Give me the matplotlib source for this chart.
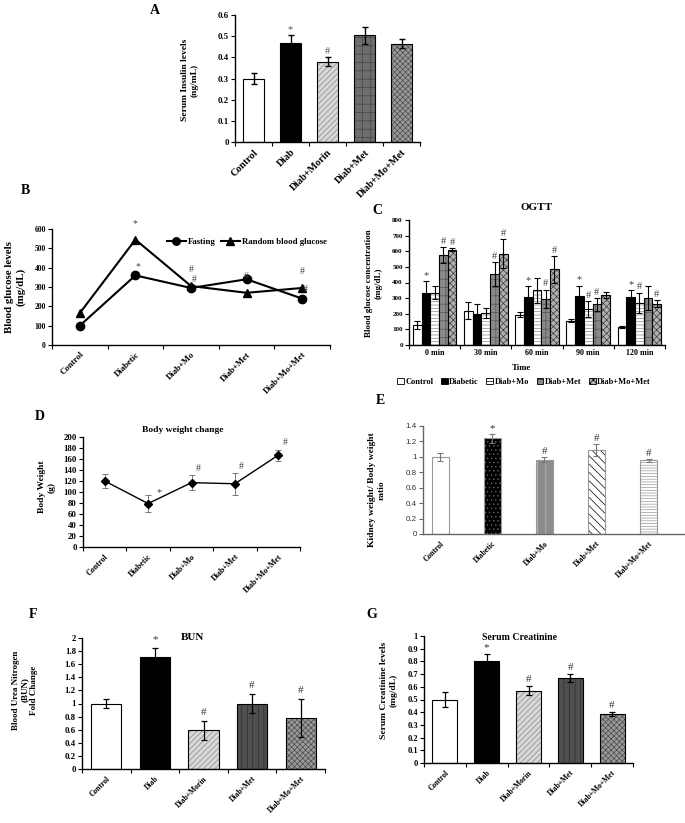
import numpy as np
import matplotlib.pyplot as plt
from matplotlib.patches import Patch

plt.rcParams['font.family'] = 'Liberation Serif'
plt.rcParams['font.weight'] = 'bold'
plt.rcParams['hatch.linewidth'] = 0.5

W, H = 685, 823

# ---------- data ----------
groups_a = ["Control", "Diab", "Diab+Morin", "Diab+Met", "Diab+Mo+Met"]
insulin = [0.30, 0.47, 0.38, 0.505, 0.465]
insulin_err = [0.025, 0.035, 0.02, 0.04, 0.02]
insulin_sig = ["", "*", "#", "", ""]

groups_b = ["Control", "Diabetic", "Diab+Mo", "Diab+Met", "Diab+Mo+Met"]
fasting = [100, 360, 295, 340, 240]
random_bg = [165, 545, 305, 270, 295]
fasting_sig = ["", "*", "#", "", "#"]
random_sig = ["", "*", "#", "#", "#"]

times = ["0 min", "30 min", "60 min", "90 min", "120 min"]
ogtt_series = ["Control", "Diabetic", "Diab+Mo", "Diab+Met", "Diab+Mo+Met"]
ogtt = [[130, 220, 195, 155, 115],
        [335, 200, 305, 315, 310],
        [335, 205, 350, 230, 270],
        [575, 455, 295, 260, 300],
        [610, 585, 485, 320, 265]]
ogtt_err = [[25, 55, 15, 10, 5],
            [75, 65, 70, 65, 40],
            [40, 35, 80, 50, 65],
            [50, 75, 60, 40, 75],
            [10, 95, 85, 20, 20]]
ogtt_sig = [["", "", "", "", ""],
            ["*", "", "*", "*", "*"],
            ["", "", "", "#", "#"],
            ["#", "#", "#", "#", ""],
            ["#", "#", "#", "", "#"]]

body_wt = [120, 79, 117, 115, 167]
body_err = [13, 15, 14, 20, 10]
body_sig = ["", "*", "#", "#", "#"]

kidney = [1.0, 1.24, 0.965, 1.09, 0.955]
kidney_err = [0.05, 0.06, 0.035, 0.08, 0.02]
kidney_sig = ["", "*", "#", "#", "#"]

bun = [1.0, 1.71, 0.59, 0.995, 0.78]
bun_err = [0.07, 0.14, 0.14, 0.145, 0.285]
bun_sig = ["", "*", "#", "#", "#"]

creat = [0.50, 0.80, 0.57, 0.67, 0.385]
creat_err = [0.06, 0.055, 0.035, 0.03, 0.015]
creat_sig = ["", "*", "#", "#", "#"]

# bar fills: (face, hatch, hatch colour)
style_a = [("white", None, "black"), ("black", None, "black"),
           ("#d8d8d8", "//////", "#8a8a8a"), ("#6e6e6e", "++", "#444444"),
           ("#9a9a9a", "xxxxxx", "#4a4a4a")]
style_c = [("white", None, "black"), ("black", None, "black"),
           ("white", "-----", "#888888"), ("#8a8a8a", "++", "#555555"),
           ("#b0b0b0", "xxxxx", "#3c3c3c")]
style_e = [("white", None, "gray"), ("black", "....", "#666666"),
           ("#8c8c8c", "||", "#c0c0c0"), ("white", "\\\\\\\\", "black"),
           ("white", "------", "#999999")]
style_f = [("white", None, "black"), ("black", None, "black"),
           ("#d8d8d8", "//////", "#8a8a8a"), ("#505050", "|||", "#2a2a2a"),
           ("#9a9a9a", "xxxxxx", "#4a4a4a")]


def box(l, t, r, b):
    return [l / W, 1 - b / H, (r - l) / W, (b - t) / H]


def ftext(x, y, s, **kw):
    fig.text(x / W, 1 - y / H, s, **kw)


def style_axes(ax, tsize=6, color="black"):
    for s in ["top", "right"]:
        ax.spines[s].set_visible(False)
    for s in ["left", "bottom"]:
        ax.spines[s].set_color(color)
        ax.spines[s].set_linewidth(1.0)
    ax.tick_params(axis="both", direction="out", length=3, width=0.8,
                   labelsize=tsize, pad=1.5, colors=color)


def cat_xaxis(ax, labels, n, size=6.5, rot=45):
    # excel style: tick marks between categories, labels at centres
    ax.set_xticks(np.arange(n + 1) - 0.5)
    ax.set_xticklabels([])
    ax.set_xticks(np.arange(n), minor=True)
    ax.set_xticklabels(labels, minor=True, rotation=rot, ha="right",
                       rotation_mode="anchor", fontsize=size, fontweight="bold")
    ax.tick_params(axis="x", which="minor", length=0, pad=4)
    ax.set_xlim(-0.5, n - 0.5)


def draw_bars(ax, x, vals, errs, styles, width, edge="black", ecolor="black",
              elw=1.0, cap=2):
    for xi, v, e, (fc, ht, hc) in zip(x, vals, errs, styles):
        ax.bar(xi, v, width, color=fc, hatch=ht, edgecolor=hc, linewidth=0)
        ax.bar(xi, v, width, fill=False, edgecolor=edge, linewidth=0.8)
    ax.errorbar(x, vals, yerr=errs, fmt="none", ecolor=ecolor, elinewidth=elw,
                capsize=cap, capthick=elw)


def mark(ax, x, tops, sig, off, size=8, color="black", dx=0.0):
    for xi, t, s in zip(x, tops, sig):
        if s:
            ax.text(xi + dx, t + off, s, ha="center", va="bottom", fontsize=size,
                    fontweight="normal", color=color)


fig = plt.figure(figsize=(W / 100, H / 100), dpi=100)

# ---------- A ----------
ax = fig.add_axes(box(235, 15, 420, 142))
style_axes(ax, 6.3)
xa = np.arange(5)
draw_bars(ax, xa, insulin, insulin_err, style_a, 0.57)
mark(ax, xa, np.add(insulin, insulin_err), insulin_sig, 0.005, 7.5, "#555555")
ax.set_ylim(0, 0.6)
ax.set_yticks(np.arange(0, 0.61, 0.1))
ax.set_yticklabels(["0", "0.1", "0.2", "0.3", "0.4", "0.5", "0.6"])
cat_xaxis(ax, groups_a, 5, size=7.3)
ftext(155, 10, "A", fontsize=10, fontweight="bold", ha="center", va="center")
ftext(190, 80, "Serum Insulin levels\n(ng/mL)", rotation=90, fontsize=6.8,
      ha="center", va="center", linespacing=1.2)

# ---------- B ----------
ax = fig.add_axes(box(52, 229, 330, 345))
style_axes(ax, 5.5)
xb = np.arange(5)
ax.plot(xb, fasting, "-o", color="black", lw=1.5, ms=6, label="Fasting")
ax.plot(xb, random_bg, "-^", color="black", lw=1.5, ms=6,
        label="Random blood glucose")
mark(ax, xb, fasting, fasting_sig, 22, 7, "#444444", dx=0.05)
mark(ax, xb, random_bg, random_sig, 62, 7, "#444444")
ax.set_ylim(0, 600)
ax.set_yticks(np.arange(0, 601, 100))
cat_xaxis(ax, groups_b, 5, size=6.3)
ax.legend(loc="upper right", bbox_to_anchor=(1.0, 0.95), ncol=2, frameon=False,
          fontsize=6.3, handlelength=2.2, handletextpad=0.2, columnspacing=0.6,
          borderaxespad=0, markerscale=0.9)
ftext(25, 191, "B", fontsize=10, fontweight="bold", ha="center", va="center")
ftext(15, 287, "Blood glucose levels\n(mg/dL)", rotation=90, fontsize=7.8,
      ha="center", va="center", linespacing=1.2)

# ---------- C ----------
ax = fig.add_axes(box(409, 220, 665, 345))
style_axes(ax, 5)
xc = np.arange(5)
bw = 0.17
for i in range(5):
    pos = xc + (i - 2) * bw
    draw_bars(ax, pos, ogtt[i], ogtt_err[i], [style_c[i]] * 5, bw,
              elw=0.8, cap=2)
    mark(ax, pos, np.add(ogtt[i], ogtt_err[i]), ogtt_sig[i], 8, 7.5, "#444444")
ax.set_ylim(0, 800)
ax.set_yticks(np.arange(0, 801, 100))
cat_xaxis(ax, times, 5, size=5.8, rot=0)
for lab in ax.get_xticklabels(minor=True):
    lab.set_ha("center")
ax.tick_params(axis="x", which="minor", pad=3)
ax.set_title("OGTT", fontsize=8, fontweight="bold", pad=7)
ftext(522, 368, "Time", fontsize=6.3, ha="center", va="center")
handles = [Patch(facecolor=fc, hatch=ht, edgecolor="black", linewidth=0.6)
           for fc, ht, hc in style_c]
fig.legend(handles, ogtt_series, loc="center", bbox_to_anchor=(524 / W, 1 - 382 / H),
           ncol=5, frameon=False, fontsize=6, handlelength=0.8, handleheight=0.8,
           handletextpad=0.2, columnspacing=0.9)
ftext(377, 210, "C", fontsize=10, fontweight="bold", ha="center", va="center")
ftext(374, 283, "Blood glucose concentration\n(mg/dL)", rotation=90,
      fontsize=6.5, ha="center", va="center", linespacing=1.2)

# ---------- D ----------
ax = fig.add_axes(box(83, 437, 300, 547))
style_axes(ax, 6.3)
xd = np.arange(5)
ax.errorbar(xd, body_wt, yerr=body_err, fmt="-D", color="black", ms=4.5, lw=1.0,
            ecolor="#777777", elinewidth=0.7, capsize=2, capthick=0.7)
for xi, v, e, s in zip(xd, body_wt, body_err, body_sig):
    if s == "*":
        ax.text(xi + 0.25, v + 12, s, ha="center", va="bottom", fontsize=7.5,
                fontweight="normal", color="#444444")
    elif s:
        ax.text(xi + 0.15, v + e + 4, s, ha="center", va="bottom", fontsize=7,
                fontweight="normal", color="#444444")
ax.set_ylim(0, 200)
ax.set_yticks(np.arange(0, 201, 20))
cat_xaxis(ax, groups_b, 5, size=5.8)
ftext(183, 430, "Body weight change", fontsize=6.8, ha="center", va="center")
ftext(40, 417, "D", fontsize=10, fontweight="bold", ha="center", va="center")
ftext(47, 487, "Body Weight\n(g)", rotation=90, fontsize=6.8, ha="center",
      va="center", linespacing=1.2)

# ---------- E ----------
ax = fig.add_axes(box(423, 426, 685, 534))
style_axes(ax, 5.8, color="#666666")
xe = np.arange(5)
draw_bars(ax, xe, kidney, kidney_err, style_e, 0.33, edge="#999999",
          ecolor="#777777", elw=0.8, cap=2)
mark(ax, xe, np.add(kidney, kidney_err), kidney_sig, 0.01, 8, "#333333")
ax.set_ylim(0, 1.4)
ax.set_yticks(np.arange(0, 1.41, 0.2))
ax.set_yticklabels(["0", "0.2", "0.4", "0.6", "0.8", "1", "1.2", "1.4"],
                   fontfamily="Liberation Sans", fontweight="normal",
                   color="#333333")
cat_xaxis(ax, groups_b, 5, size=5.5)
ax.set_xlim(-0.33, 4.7)
ax.tick_params(axis="x", which="major", length=0)
ftext(380, 400, "E", fontsize=10, fontweight="bold", ha="center", va="center")
ftext(377, 490, "Kidney weight/ Body weight\nratio", rotation=90, fontsize=6.8,
      ha="center", va="center", linespacing=1.2)

# ---------- F ----------
ax = fig.add_axes(box(82, 638, 325, 769))
style_axes(ax, 6.3)
xf = np.arange(5)
draw_bars(ax, xf, bun, bun_err, style_f, 0.62, elw=0.9)
mark(ax, xf, np.add(bun, bun_err), bun_sig, 0.06, 8, "#333333")
ax.set_ylim(0, 2)
ax.set_yticks(np.arange(0, 2.01, 0.2))
ax.set_yticklabels(["0", "0.2", "0.4", "0.6", "0.8", "1", "1.2", "1.4", "1.6",
                    "1.8", "2"])
cat_xaxis(ax, groups_a, 5, size=5.5)
ftext(192, 638, "BUN", fontsize=8, ha="center", va="center")
ftext(33, 615, "F", fontsize=10, fontweight="bold", ha="center", va="center")
ftext(25, 690, "Blood Urea Nitrogen\n(BUN)\nFold Change", rotation=90,
      fontsize=6.5, ha="center", va="center", linespacing=1.15)

# ---------- G ----------
ax = fig.add_axes(box(424, 636, 633, 763))
style_axes(ax, 6)
xg = np.arange(5)
draw_bars(ax, xg, creat, creat_err, style_f, 0.6, elw=0.9)
mark(ax, xg, np.add(creat, creat_err), creat_sig, 0.015, 8, "#333333")
ax.set_ylim(0, 1)
ax.set_yticks(np.arange(0, 1.01, 0.1))
ax.set_yticklabels(["0", "0.1", "0.2", "0.3", "0.4", "0.5", "0.6", "0.7", "0.8",
                    "0.9", "1"])
cat_xaxis(ax, groups_a, 5, size=5.5)
ftext(520, 637, "Serum Creatinine", fontsize=7, ha="center", va="center")
ftext(372, 615, "G", fontsize=10, fontweight="bold", ha="center", va="center")
ftext(389, 690, "Serum Creatinine levels\n(mg/dL)", rotation=90, fontsize=6.8,
      ha="center", va="center", linespacing=1.2)

fig.savefig("out.png", dpi=100)
